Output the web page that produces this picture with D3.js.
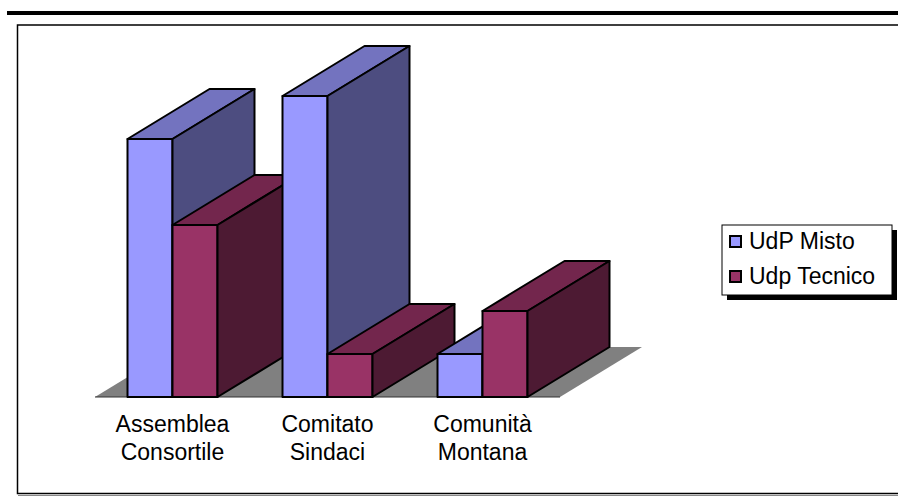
<!DOCTYPE html>
<html>
<head>
<meta charset="utf-8">
<script src="https://cdn.jsdelivr.net/npm/d3@7"></script>
<style>
  html, body { margin: 0; padding: 0; background: #fff; }
  svg { display: block; }
  text { font-family: "Liberation Sans", Arial, sans-serif; fill: #000; }
</style>
</head>
<body>
<svg id="chart" width="898" height="500"></svg>
<script>
// Chart data
const categories = ["Assemblea Consortile", "Comitato Sindaci", "Comunità Montana"];
const seriesNames = ["UdP Misto", "Udp Tecnico"];
const udpMisto = [6, 7, 1];
const udpTecnico = [4, 1, 2];
const valueMax = 7;

// Palette: front, top, side shades per series
const palette = [
  { front: "#9999FF", top: "#7373BF", side: "#4D4D80" },
  { front: "#993366", top: "#73264D", side: "#4D1A33" }
];

const svg = d3.select("#chart");
const W = 898, H = 500;

// Page decoration: heavy rule and the chart frame
svg.append("rect").attr("x", 7).attr("y", 11).attr("width", W - 7).attr("height", 4).attr("fill", "#000");
svg.append("path")
  .attr("d", `M${W + 5},25 H17.5 V493.5 H${W + 5}`)
  .attr("fill", "none").attr("stroke", "#000").attr("stroke-width", 1.5);
svg.append("line").attr("x1", 18).attr("x2", W).attr("y1", 495.5).attr("y2", 495.5)
  .attr("stroke", "#888").attr("stroke-width", 1);

// Projection: depth goes up and to the right
const depth = { dx: 82, dy: -50 };

const x = d3.scaleBand()
  .domain(categories)
  .range([95, 560])
  .paddingInner(65 / 155)
  .paddingOuter(32.5 / 155);

const xs = d3.scaleBand().domain(seriesNames).range([0, x.bandwidth()]);

const y = d3.scaleLinear().domain([0, valueMax]).range([397, 96]);

const values = [udpMisto, udpTecnico];

const plot = svg.append("g");

// Floor
const fx0 = x.range()[0], fx1 = x.range()[1], fy = y(0);
plot.append("path")
  .attr("d", `M${fx0},${fy} L${fx1},${fy} L${fx1 + depth.dx},${fy + depth.dy} L${fx0 + depth.dx},${fy + depth.dy} Z`)
  .attr("fill", "#808080");
plot.append("line")
  .attr("x1", fx0).attr("x2", fx1).attr("y1", fy).attr("y2", fy)
  .attr("stroke", "#333").attr("stroke-width", 1);

// Bars, painted left to right so nearer faces cover the ones behind
const bars = [];
categories.forEach((c, i) => {
  seriesNames.forEach((s, j) => {
    bars.push({ cat: c, series: s, si: j, value: values[j][i] });
  });
});

const pt = (a, b) => `${a},${b}`;
const barG = plot.selectAll("g.bar").data(bars).join("g").attr("class", "bar");

barG.each(function (d) {
  const g = d3.select(this);
  const x0 = x(d.cat) + xs(d.series);
  const x1 = x0 + xs.bandwidth();
  const yTop = y(d.value), yBase = y(0);
  const { dx, dy } = depth;
  const col = palette[d.si];
  const common = sel => sel.attr("stroke", "#000").attr("stroke-width", 2).attr("stroke-linejoin", "round");

  g.append("polygon")
    .attr("points", [pt(x0, yBase), pt(x1, yBase), pt(x1, yTop), pt(x0, yTop)].join(" "))
    .attr("fill", col.front).call(common);
  g.append("polygon")
    .attr("points", [pt(x0, yTop), pt(x1, yTop), pt(x1 + dx, yTop + dy), pt(x0 + dx, yTop + dy)].join(" "))
    .attr("fill", col.top).call(common);
  g.append("polygon")
    .attr("points", [pt(x1, yBase), pt(x1 + dx, yBase + dy), pt(x1 + dx, yTop + dy), pt(x1, yTop)].join(" "))
    .attr("fill", col.side).call(common);
});

// Category labels (two lines each)
const labels = plot.selectAll("text.cat").data(categories).join("text")
  .attr("class", "cat")
  .attr("text-anchor", "middle")
  .attr("font-size", 23)
  .attr("x", d => x(d) + x.bandwidth() / 2)
  .attr("y", 432);
labels.each(function (d) {
  const parts = d.split(" ");
  const t = d3.select(this);
  parts.forEach((p, k) => {
    t.append("tspan")
      .attr("x", x(d) + x.bandwidth() / 2)
      .attr("dy", k === 0 ? 0 : 28)
      .text(p);
  });
});

// Legend
const lg = svg.append("g").attr("transform", "translate(722,225)");
lg.append("rect").attr("x", 5).attr("y", 5).attr("width", 170).attr("height", 70).attr("fill", "#000");
lg.append("rect").attr("x", 0).attr("y", 0).attr("width", 170).attr("height", 70)
  .attr("fill", "#fff").attr("stroke", "#000").attr("stroke-width", 1);
const item = lg.selectAll("g.item").data(seriesNames).join("g")
  .attr("class", "item")
  .attr("transform", (d, i) => `translate(8,${11 + i * 35})`);
item.append("rect").attr("width", 11).attr("height", 11)
  .attr("fill", (d, i) => palette[i].front).attr("stroke", "#000").attr("stroke-width", 2);
item.append("text").attr("x", 19).attr("y", 13).attr("font-size", 23).text(d => d);
</script>
</body>
</html>
